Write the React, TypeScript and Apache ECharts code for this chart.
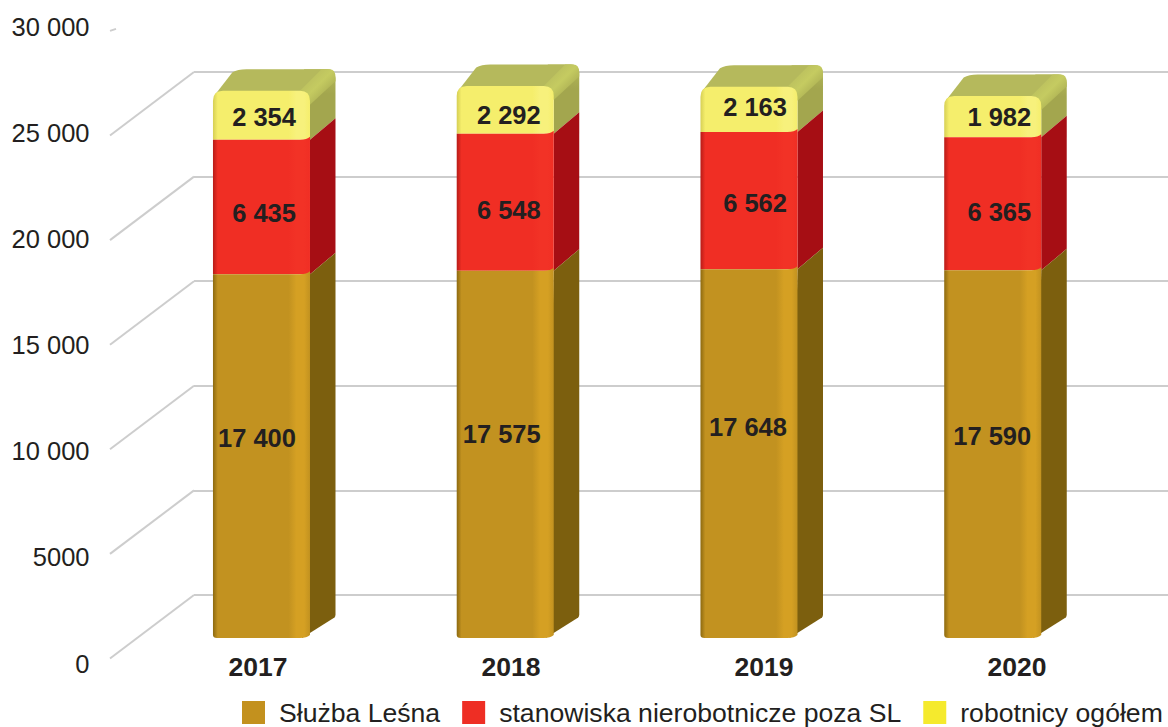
import React, { useEffect, useRef } from "react";
import * as echarts from "echarts";

const years = ["2017", "2018", "2019", "2020"];
const sluzbaLesna = [17400, 17575, 17648, 17590];
const stanowiska = [6435, 6548, 6562, 6365];
const robotnicy = [2354, 2292, 2163, 1982];
const yTicks = [0, 5000, 10000, 15000, 20000, 25000, 30000];
const yTickLabels = ["0", "5000", "10 000", "15 000", "20 000", "25 000", "30 000"];
const wallTicks = [0, 5000, 10000, 15000, 20000, 25000];
const legendNames = ["Służba Leśna", "stanowiska nierobotnicze poza SL", "robotnicy ogółem"];

// purely visual nudges of the value labels, in px
const labelRightNudge = [34.5, 35.5, 38, 38.5];
const brownLabelNudge = [-18, -20, -27, -18];
const redLabelNudge = [6, 8, 2, 8];
const yellowLabelNudge = [2, 5, -2, 0];

const fontFamily = "'Liberation Sans', Arial, sans-serif";
const ink = "#231f20";
const gridColor = "#cdcdcd";
const FRONT_RATIO = 0.398;
const DX = 25.5;
const DY = 21.5;

const fmt = (v: number) => {
  const s = String(v);
  return s.length > 3 ? s.slice(0, -3) + " " + s.slice(-3) : s;
};

type Pal = { edge: string; main: string; hi: string; side: string; sideHi?: string };
const pals: Record<string, Pal> = {
  brown: { edge: "#8d6a10", main: "#c29220", hi: "#d5a023", side: "#7c5f0e" },
  red: { edge: "#b81c18", main: "#f02e24", hi: "#f23226", side: "#a60e14" },
  yellow: { edge: "#d6cf55", main: "#f5ee6c", hi: "#f7f17c", side: "#a3a64e", sideHi: "#b5ba58" },
};

function frontFill(p: Pal) {
  return new echarts.graphic.LinearGradient(0, 0, 1, 0, [
    { offset: 0, color: p.edge },
    { offset: 0.05, color: p.main },
    { offset: 0.78, color: p.main },
    { offset: 0.86, color: p.hi },
    { offset: 0.94, color: p.hi },
    { offset: 1, color: p.main },
  ]);
}

function makeBar(kind: "brown" | "red" | "yellow", nudges: number[]) {
  return (params: any, api: any) => {
    const i = api.value(0);
    const start = api.value(1);
    const end = api.value(2);
    const value = end - start;
    const p = pals[kind];
    const [cx, yb] = api.coord([i, start]);
    const [, yt] = api.coord([i, end]);
    const w = api.size([1, 0])[0] * FRONT_RATIO;
    const x0 = cx - w / 2;
    const x1 = cx + w / 2;
    const children: any[] = [];

    // side face
    let side: string;
    if (kind === "yellow") {
      const r = 9;
      side = `M${x1} ${yb} L${x1 + DX} ${yb - DY} L${x1 + DX} ${yt - DY + r} Q${x1 + DX} ${yt - DY} ${x1 + DX - r} ${yt - DY} L${x1 - 6} ${yt - DY} L${x1} ${yt} Z`;
    } else if (kind === "brown") {
      side = `M${x1 - 8} ${yb} L${x1 + DX - 1} ${yb - DY + 1} Q${x1 + DX} ${yb - DY} ${x1 + DX} ${yb - DY - 2} L${x1 + DX} ${yt - DY} L${x1} ${yt} Z`;
    } else {
      side = `M${x1} ${yb} L${x1 + DX} ${yb - DY} L${x1 + DX} ${yt - DY} L${x1} ${yt} Z`;
    }
    children.push({
      type: "path",
      shape: { pathData: side },
      style: {
        fill: p.sideHi
          ? new echarts.graphic.LinearGradient(0, 0, 0, 1, [
              { offset: 0, color: p.sideHi },
              { offset: 0.35, color: p.side },
              { offset: 1, color: p.side },
            ])
          : p.side,
      },
    });

    // top face of the whole stack
    if (kind === "yellow") {
      const top = `M${x0 + 2} ${yt + 4} L${x0 + DX - 6} ${yt - DY + 3} Q${x0 + DX - 1} ${yt - DY} ${x0 + DX + 8} ${yt - DY} L${x1 + DX - 8} ${yt - DY} Q${x1 + DX - 2} ${yt - DY} ${x1 + DX - 4} ${yt - DY + 4} L${x1 - 1} ${yt + 4} Z`;
      children.push({ type: "path", shape: { pathData: top }, style: { fill: "#b5b95c" } });
      // soft rounded ridge between the top and the side
      const ridge = `M${x1 - 10} ${yt} L${x1 + DX - 14} ${yt - DY} L${x1 + DX - 6} ${yt - DY} Q${x1 + DX} ${yt - DY} ${x1 + DX} ${yt - DY + 8} L${x1 + DX} ${yt - DY + 12} L${x1} ${yt + 14} Z`;
      children.push({
        type: "path",
        shape: { pathData: ridge },
        style: {
          fill: new echarts.graphic.LinearGradient(0, 0, 1, 1, [
            { offset: 0.1, color: "#b5b95c" },
            { offset: 0.48, color: "#c5cb61" },
            { offset: 0.85, color: "#a3a64e" },
          ]),
        },
      });
    }

    // front face
    let front: string;
    if (kind === "yellow") {
      const r = 10;
      front = `M${x0} ${yb} L${x0} ${yt + r} Q${x0} ${yt} ${x0 + r} ${yt} L${x1 - r} ${yt} Q${x1} ${yt} ${x1} ${yt + r} L${x1} ${yb} Z`;
    } else if (kind === "red") {
      front = `M${x0} ${yb} L${x0} ${yt} L${x1 - 10} ${yt} Q${x1 - 3} ${yt} ${x1} ${yt - 3} L${x1} ${yb} Z`;
    } else {
      front = `M${x0} ${yb - 3} Q${x0} ${yb} ${x0 + 4} ${yb} L${x1 - 10} ${yb} Q${x1 - 3} ${yb} ${x1} ${yb - 3} L${x1} ${yt - 3} Q${x1 - 3} ${yt} ${x1 - 10} ${yt} L${x0} ${yt} Z`;
    }
    children.push({ type: "path", shape: { pathData: front }, style: { fill: frontFill(p) } });

    // value label
    children.push({
      type: "text",
      style: {
        text: fmt(value),
        x: cx + labelRightNudge[i],
        y: (yb + yt) / 2 + nudges[i],
        textAlign: "right",
        textVerticalAlign: "middle",
        fill: ink,
        font: `bold 25.5px ${fontFamily}`,
      },
    });
    return { type: "group", children };
  };
}

function wallDiagonals(params: any, api: any) {
  const v = api.value(1);
  const y = api.coord([0, v])[1];
  const x = params.coordSys.x;
  const dx = -84;
  const dy = 63.5;
  const isStub = v > 25000;
  const shape = isStub
    ? { x1: x + dx, y1: y + dy, x2: x + dx + 6, y2: y + dy - 2 }
    : { x1: x, y1: y, x2: x + dx, y2: y + dy };
  return {
    type: "line",
    shape,
    style: { stroke: gridColor, lineWidth: 2 },
  };
}

export default function App() {
  const ref = useRef<HTMLDivElement>(null);

  useEffect(() => {
    const chart = echarts.init(ref.current!, undefined, { renderer: "svg" });
    const redBase = sluzbaLesna;
    const yellowBase = sluzbaLesna.map((v, i) => v + stanowiska[i]);

    chart.setOption({
      animation: false,
      backgroundColor: "#ffffff",
      grid: [
        { left: 131.5, width: 1012, top: 27, height: 636.5 },
        { left: 139.6, width: 975, top: 11, height: 627 },
        { left: 194, right: 0, top: 72, height: 523 },
      ],
      xAxis: [
        {
          type: "category",
          gridIndex: 0,
          data: years,
          axisLine: { show: false },
          axisTick: { show: false },
          axisLabel: {
            interval: 0,
            margin: -10,
            color: ink,
            fontFamily,
            fontWeight: "bold",
            fontSize: 26.5,
          },
        },
        { type: "category", gridIndex: 1, data: years, show: false },
        { type: "category", gridIndex: 2, data: years, show: false },
      ],
      yAxis: [
        {
          type: "value",
          gridIndex: 0,
          min: 0,
          max: 30000,
          interval: 5000,
          axisLine: { show: false },
          axisTick: { show: false },
          splitLine: { show: false },
          axisLabel: {
            margin: 42,
            color: ink,
            fontFamily,
            fontSize: 25.5,
            formatter: (v: number) => yTickLabels[yTicks.indexOf(v)],
          },
        },
        { type: "value", gridIndex: 1, min: 0, max: 30000, show: false, splitLine: { show: false } },
        {
          type: "value",
          gridIndex: 2,
          min: 0,
          max: 25000,
          interval: 5000,
          axisLine: { show: false },
          axisTick: { show: false },
          axisLabel: { show: false },
          splitLine: { show: true, lineStyle: { color: gridColor, width: 2 } },
        },
      ],
      legend: {
        left: 242,
        top: 699,
        padding: 0,
        itemWidth: 23,
        itemHeight: 23,
        itemGap: 22,
        icon: "rect",
        selectedMode: false,
        data: legendNames,
        textStyle: { color: ink, fontFamily, fontSize: 26.6, padding: [0, 0, 0, 9] },
      },
      series: [
        {
          type: "custom",
          name: "siatka",
          xAxisIndex: 2,
          yAxisIndex: 2,
          silent: true,
          z: 1,
          renderItem: wallDiagonals,
          data: [...wallTicks, yTicks[yTicks.length - 1]].map((v) => [0, v]),
        },
        {
          type: "custom",
          name: legendNames[2],
          xAxisIndex: 1,
          yAxisIndex: 1,
          z: 2,
          itemStyle: { color: "#f5ea2d" },
          renderItem: makeBar("yellow", yellowLabelNudge),
          encode: { x: 0, y: [1, 2] },
          data: robotnicy.map((v, i) => [i, yellowBase[i], yellowBase[i] + v]),
        },
        {
          type: "custom",
          name: legendNames[1],
          xAxisIndex: 1,
          yAxisIndex: 1,
          z: 3,
          itemStyle: { color: "#ee2e24" },
          renderItem: makeBar("red", redLabelNudge),
          encode: { x: 0, y: [1, 2] },
          data: stanowiska.map((v, i) => [i, redBase[i], redBase[i] + v]),
        },
        {
          type: "custom",
          name: legendNames[0],
          xAxisIndex: 1,
          yAxisIndex: 1,
          z: 4,
          itemStyle: { color: "#c3911e" },
          renderItem: makeBar("brown", brownLabelNudge),
          encode: { x: 0, y: [1, 2] },
          data: sluzbaLesna.map((v, i) => [i, 0, v]),
        },
      ],
    });
    return () => chart.dispose();
  }, []);

  return (
    <div
      ref={ref}
      style={{ position: "fixed", left: 0, top: 0, width: 1168, height: 727, overflow: "hidden" }}
    />
  );
}
